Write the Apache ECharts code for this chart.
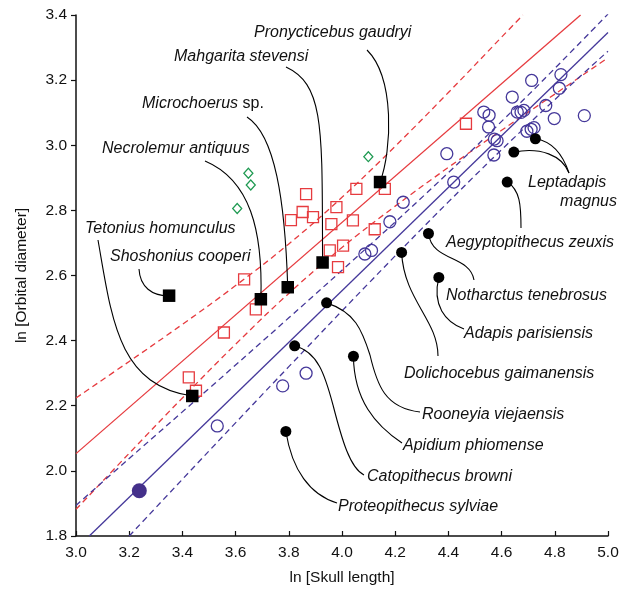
<!DOCTYPE html>
<html><head><meta charset="utf-8">
<script src="https://cdn.jsdelivr.net/npm/echarts@6/dist/echarts.min.js"></script>
<style>html,body{margin:0;padding:0;background:#fff}#c{width:625px;height:591px}</style>
</head><body><div id="c"></div>
<script>
// ---- tick labels ----
const xTickLabels = ['3.0','3.2','3.4','3.6','3.8','4.0','4.2','4.4','4.6','4.8','5.0'];
const yTickLabels = ['1.8','2.0','2.2','2.4','2.6','2.8','3.0','3.2','3.4'];

// ---- open red squares ----
const openSquares = [[3.865,2.850],[3.852,2.795],[3.808,2.770],[3.891,2.779],[3.979,2.810],[4.054,2.866],[4.161,2.866],[3.960,2.758],[4.041,2.769],[4.123,2.742],[4.004,2.692],[3.954,2.677],[3.985,2.626],[3.632,2.588],[3.676,2.496],[3.556,2.425],[3.424,2.287],[3.451,2.246],[4.466,3.066]];
// ---- open purple circles ----
const openCircles = [[4.713,3.199],[4.823,3.217],[4.817,3.175],[4.640,3.148],[4.766,3.122],[4.911,3.091],[4.798,3.082],[4.533,3.102],[4.553,3.092],[4.659,3.102],[4.673,3.101],[4.684,3.107],[4.551,3.056],[4.695,3.043],[4.711,3.049],[4.722,3.054],[4.573,3.019],[4.583,3.014],[4.571,2.970],[4.394,2.974],[4.420,2.887],[4.230,2.825],[4.180,2.765],[4.111,2.677],[4.086,2.666],[3.865,2.300],[3.777,2.261],[3.531,2.138]];
// ---- open green diamonds ----
const openDiamonds = [[3.648,2.914],[3.657,2.878],[3.606,2.806],[4.099,2.965]];
// ---- fossil squares ----
const fossilSquareNames = ['Shoshonius cooperi','Tetonius homunculus','Necrolemur antiquus','Microchoerus sp.','Mahgarita stevensi','Pronycticebus gaudryi'];
const fossilSquares = [[3.350,2.538],[3.437,2.230],[3.695,2.527],[3.796,2.564],[3.927,2.640],[4.143,2.887]];
// ---- fossil circles ----
const fossilCircleNames = ['Leptadapis magnus','Leptadapis magnus','Aegyptopithecus zeuxis','Notharctus tenebrosus','Dolichocebus gaimanensis','Adapis parisiensis','Rooneyia viejaensis','Catopithecus browni','Apidium phiomense','Proteopithecus sylviae'];
const fossilCircles = [[4.727,3.020],[4.646,2.979],[4.621,2.887],[4.325,2.729],[4.224,2.671],[4.364,2.594],[3.942,2.516],[3.822,2.384],[4.043,2.352],[3.789,2.121]];
// ---- large filled circle ----
const largeCircle = [[3.238,1.939]];
// ---- regression lines and bands ----
const redFit = [[3.0,2.053],[4.897,3.400]];
const redUpper = [[3.0,2.224],[3.2,2.336],[3.4,2.450],[3.6,2.569],[3.8,2.697],[4.0,2.840],[4.2,2.997],[4.4,3.162],[4.6,3.332],[4.68,3.400]];
const redLower = [[3.0,1.882],[3.2,2.054],[3.4,2.224],[3.6,2.389],[3.8,2.545],[4.0,2.686],[4.2,2.813],[4.4,2.932],[4.6,3.046],[4.8,3.157],[4.99,3.263]];
const blueFit = [[3.05,1.800],[5.0,3.346]];
const blueUpper = [[3.0,1.894],[3.2,2.038],[3.5,2.253],[3.8,2.470],[4.1,2.690],[4.4,2.916],[4.7,3.154],[5.0,3.403]];
const blueLower = [[3.2,1.800],[3.5,2.061],[3.8,2.320],[4.1,2.576],[4.4,2.826],[4.7,3.064],[5.0,3.289]];

const RED = '#e63b3f', BLUE = '#45389a', GREEN = '#1f9a52', PURPLE = '#44308a';
const FONT = '"Liberation Sans", Arial, Helvetica, sans-serif';
const LABEL_SIZE = 16;

const chart = echarts.init(document.getElementById('c'), null, {renderer: 'canvas'});
const tickFmt = v => (Math.round(v * 10) / 10).toFixed(1);
function lineSeries(data, color, dashed, smooth) {
  return {type: 'line', data, showSymbol: false, symbol: 'none', smooth: smooth ? 0.4 : false, silent: true,
    lineStyle: {color, width: 1.3, type: dashed ? [6, 4] : 'solid'}, z: 1};
}
const openStyle = c => ({color: 'rgba(0,0,0,0)', borderColor: c, borderWidth: 1.3, opacity: 1});
chart.setOption({
  animation: false,
  grid: {left: 76, right: 17, top: 15, bottom: 53},
  xAxis: {type: 'value', min: +xTickLabels[0], max: +xTickLabels[xTickLabels.length - 1], interval: 0.2,
    name: 'ln [Skull length]', nameLocation: 'middle', nameGap: 34,
    nameTextStyle: {fontFamily: FONT, fontSize: 15.5, color: '#111'},
    axisLine: {lineStyle: {color: '#111', width: 1.5}}, axisTick: {inside: true, length: 5, lineStyle: {color: '#111', width: 1.2}},
    axisLabel: {formatter: tickFmt, fontFamily: FONT, fontSize: 15.5, color: '#111', margin: 9}, splitLine: {show: false}},
  yAxis: {type: 'value', min: +yTickLabels[0], max: +yTickLabels[yTickLabels.length - 1], interval: 0.2,
    name: 'ln [Orbital diameter]', nameLocation: 'middle', nameGap: 46, nameRotate: 90,
    nameTextStyle: {fontFamily: FONT, fontSize: 15.5, color: '#111'},
    axisLine: {lineStyle: {color: '#111', width: 1.5}}, axisTick: {inside: false, length: 5, lineStyle: {color: '#111', width: 1.2}},
    axisLabel: {formatter: tickFmt, fontFamily: FONT, fontSize: 15.5, color: '#111', margin: 9}, splitLine: {show: false}},
  series: [
    lineSeries(redUpper, RED, true, true), lineSeries(redLower, RED, true, true), lineSeries(redFit, RED, false, false),
    lineSeries(blueUpper, BLUE, true, true), lineSeries(blueLower, BLUE, true, true), lineSeries(blueFit, BLUE, false, false),
    {type: 'scatter', data: openSquares, symbol: 'rect', symbolSize: 11, itemStyle: openStyle(RED), z: 3},
    {type: 'scatter', data: openCircles, symbol: 'circle', symbolSize: 12, itemStyle: openStyle(BLUE), z: 3},
    {type: 'scatter', data: openDiamonds, symbol: 'diamond', symbolSize: [9, 10], itemStyle: openStyle(GREEN), z: 3},
    {type: 'scatter', data: largeCircle, symbol: 'circle', symbolSize: 15, itemStyle: {color: PURPLE, opacity: 1}, z: 4},
    {type: 'scatter', data: fossilSquares.map((p, i) => ({name: fossilSquareNames[i], value: p})), symbol: 'rect', symbolSize: 12.5, itemStyle: {color: '#000', opacity: 1}, z: 5},
    {type: 'scatter', data: fossilCircles.map((p, i) => ({name: fossilCircleNames[i], value: p})), symbol: 'circle', symbolSize: 11, itemStyle: {color: '#000', opacity: 1}, z: 5}
  ]
});

// ---- callout layout: label positions and connector control points (pixels);
//      each connector ends at its data point, converted through the axes ----
const callouts = [
  {set: 'sq', i: 0, path: [[139,269],[140,287],[152,296]], label: {text: 'Shoshonius cooperi', x: 110, y: 257}},
  {set: 'sq', i: 1, path: [[98,240],[112,320],[118,385]], label: {text: 'Tetonius homunculus', x: 85, y: 229}},
  {set: 'sq', i: 2, path: [[205,161],[250,180],[263,230]], label: {text: 'Necrolemur antiquus', x: 102, y: 149}},
  {set: 'sq', i: 3, path: [[247,117],[275,135],[285,200]], label: {text: '{i|Microchoerus} {n|sp.}', x: 142, y: 104}},
  {set: 'sq', i: 4, path: [[286,67],[325,85],[322,130]], label: {text: 'Mahgarita stevensi', x: 174, y: 57}},
  {set: 'sq', i: 5, path: [[367,50],[395,78],[392,150]], label: {text: 'Pronycticebus gaudryi', x: 254, y: 33}},
  {set: 'ci', i: 0, path: [[569,173],[562,152],[550,141]], label: {text: 'Leptadapis', x: 528, y: 183}},
  {set: 'ci', i: 1, path: [[569,173],[562,155],[540,147]], label: {text: 'magnus', x: 617, y: 202, align: 'right'}},
  {set: 'ci', i: 2, path: [[521,228],[521,205],[520,190]], label: {text: 'Aegyptopithecus zeuxis', x: 446, y: 243}},
  {set: 'ci', i: 3, path: [[474,280],[470,255],[432,262]], label: {text: 'Notharctus tenebrosus', x: 446, y: 296}},
  {set: 'ci', i: 4, path: [[438,356],[438,320],[404,300]], label: {text: 'Dolichocebus gaimanensis', x: 404, y: 374}},
  {set: 'ci', i: 5, path: [[464,329],[445,322],[432,305]], label: {text: 'Adapis parisiensis', x: 464, y: 334}},
  {set: 'ci', i: 6, path: [[420,412],[385,408],[377,385],[370,355],[362,330],[355,312]], label: {text: 'Rooneyia viejaensis', x: 422, y: 415}},
  {set: 'ci', i: 7, path: [[364,475],[350,468],[342,440],[333,405],[325,375],[318,352]], label: {text: 'Catopithecus browni', x: 367, y: 477}},
  {set: 'ci', i: 8, path: [[402,443],[375,425],[354,400]], label: {text: 'Apidium phiomense', x: 403, y: 446}},
  {set: 'ci', i: 9, path: [[337,503],[310,495],[292,470]], label: {text: 'Proteopithecus sylviae', x: 338, y: 507}}
];
const graphics = [];
callouts.forEach(c => {
  const p = (c.set === 'sq' ? fossilSquares : fossilCircles)[c.i];
  const end = chart.convertToPixel({gridIndex: 0}, p);
  const pts = c.path.concat([end]);
  for (let k = 0; k + 3 < pts.length; k += 3) {
    graphics.push({type: 'bezierCurve', silent: true, z: 2,
      shape: {x1: pts[k][0], y1: pts[k][1], cpx1: pts[k+1][0], cpy1: pts[k+1][1], cpx2: pts[k+2][0], cpy2: pts[k+2][1], x2: pts[k+3][0], y2: pts[k+3][1]},
      style: {stroke: '#000', fill: null, lineWidth: 1.1}});
  }
  const L = c.label, al = L.align || 'left';
  graphics.push({type: 'text', silent: true, z: 10, x: L.x, y: L.y,
    style: {text: L.text, fontFamily: FONT, fontSize: LABEL_SIZE, fontStyle: 'italic', fill: '#111',
      align: al, verticalAlign: 'middle',
      rich: {i: {fontFamily: FONT, fontSize: LABEL_SIZE, fontStyle: 'italic', fill: '#111'}, n: {fontFamily: FONT, fontSize: LABEL_SIZE, fontStyle: 'normal', fill: '#111'}}}});
});
chart.setOption({graphic: graphics});
</script></body></html>
